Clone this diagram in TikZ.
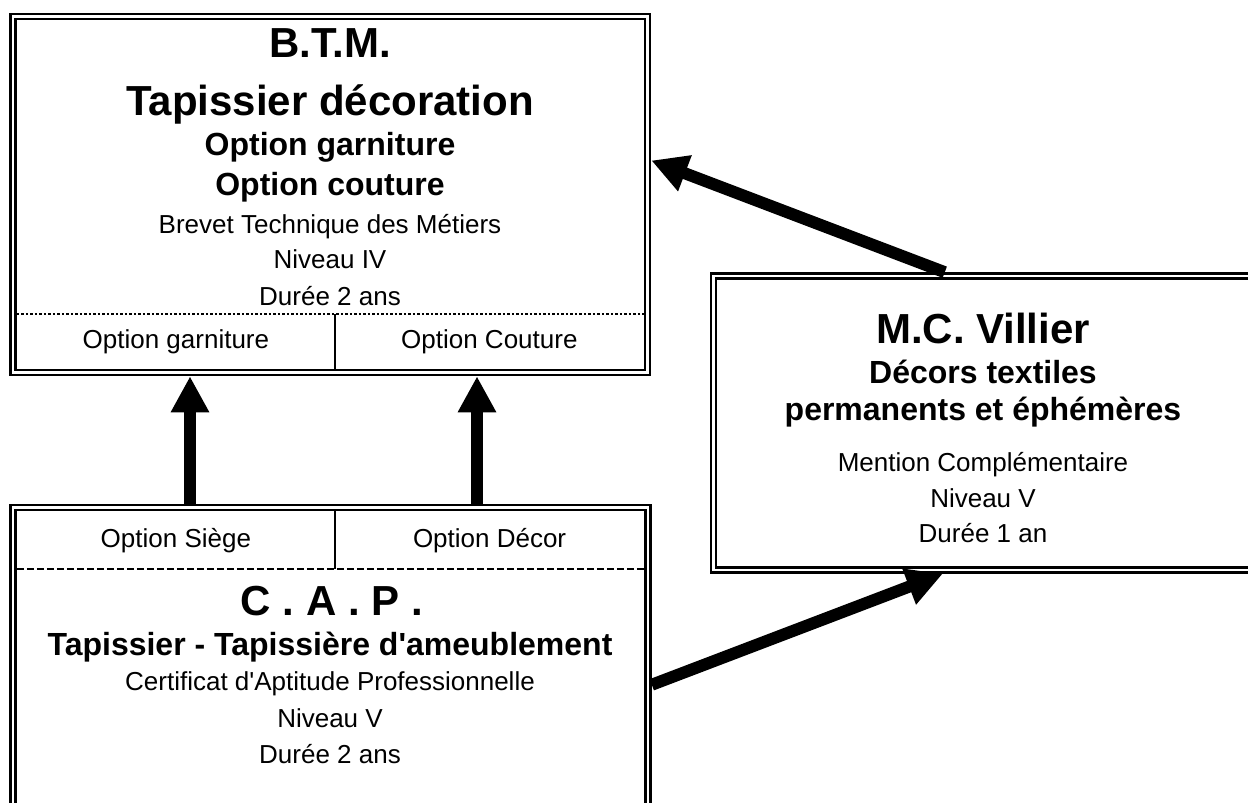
\documentclass[tikz,border=0pt]{standalone}
\usepackage{fontspec}
\setmainfont{Liberation Sans}
\usetikzlibrary{arrows.meta}

\begin{document}
\begin{tikzpicture}[x=1pt, y=-1pt]
    \tikzstyle{box} = [draw, double, line width=2.6pt, double distance=2.4pt, inner sep=0pt, outer sep=3.8pt]
    \tikzstyle{cell} = [inner sep=0pt, outer sep=0pt, font=\fontsize{26}{30}\selectfont]
    \tikzstyle{titre} = [anchor=base, font=\bfseries\fontsize{42}{48}\selectfont]
    \tikzstyle{soustitre} = [anchor=base, font=\bfseries\fontsize{32}{36}\selectfont]
    \tikzstyle{texte} = [anchor=base, font=\fontsize{26}{30}\selectfont]
    \tikzstyle{fleche} = [-{Triangle[width=36pt, length=36pt]}, line width=12pt]
    \useasboundingbox (0,0) rectangle (1248,803);

    % the three diplomas
    \node [box, minimum width=634.5pt, minimum height=356pt] (btm) at (330.25,194.5) {};
    \node [box, minimum width=635pt, minimum height=332.5pt] (cap) at (330.5,673.75) {};
    \node [box, minimum width=566.5pt, minimum height=294pt] (mc) at (996.75,423) {};

    % option cells
    \node [cell, minimum width=318.2pt, minimum height=54.7pt] (garniture) at (175.9,341.35) {Option garniture};
    \node [cell, minimum width=308.7pt, minimum height=54.7pt] (couture) at (489.35,341.35) {Option Couture};
    \node [cell, minimum width=318.2pt, minimum height=57.7pt] (siege) at (175.9,540.15) {Option Siège};
    \node [cell, minimum width=309.2pt, minimum height=57.7pt] (decor) at (489.6,540.15) {Option Décor};
    \draw [line width=2.5pt, dash pattern=on 2.5pt off 2pt] (garniture.north west) -- (couture.north east);
    \draw [line width=2.5pt] (garniture.north east) -- (garniture.south east);
    \draw [line width=2.5pt, dash pattern=on 7pt off 3pt] (siege.south west) -- (decor.south east);
    \draw [line width=2.5pt] (siege.north east) -- (siege.south east);

    % B.T.M.
    \node [titre] (btmsigle) at (330,57) {B.T.M.};
    \node [titre] (btmnom) at (330,115) {Tapissier décoration};
    \node [soustitre] (btmopt1) at (330,155) {Option garniture};
    \node [soustitre] (btmopt2) at (330,195) {Option couture};
    \node [texte] (btmdiplome) at (330,233) {Brevet Technique des Métiers};
    \node [texte] (btmniveau) at (330,268) {Niveau IV};
    \node [texte] (btmduree) at (330,305) {Durée 2 ans};

    % C.A.P.
    \node [titre] (capsigle) at (332,615) {C . A . P .};
    \node [soustitre] (capnom) at (330,655) {Tapissier - Tapissière d\textquotesingle ameublement};
    \node [texte] (capdiplome) at (330,690) {Certificat d\textquotesingle Aptitude Professionnelle};
    \node [texte] (capniveau) at (330,727) {Niveau V};
    \node [texte] (capduree) at (330,763) {Durée 2 ans};

    % M.C.
    \node [titre] (mcsigle) at (983,343) {M.C. Villier};
    \node [soustitre] (mcnom1) at (983,383) {Décors textiles};
    \node [soustitre] (mcnom2) at (983,420) {permanents et éphémères};
    \node [texte] (mcdiplome) at (983,471) {Mention Complémentaire};
    \node [texte] (mcniveau) at (983,507) {Niveau V};
    \node [texte] (mcduree) at (983,542) {Durée 1 an};

    \draw [fleche] ([xshift=-140.5pt]cap.north) -- ([xshift=-140.25pt]btm.south);
    \draw [fleche] ([xshift=146.5pt]cap.north) -- ([xshift=146.75pt]btm.south);
    \draw [fleche] ([xshift=-52pt]mc.north) -- ([yshift=34pt]btm.east);
    \draw [fleche] ([yshift=-11pt]cap.east) -- ([xshift=-54pt]mc.south);
\end{tikzpicture}
\end{document}
